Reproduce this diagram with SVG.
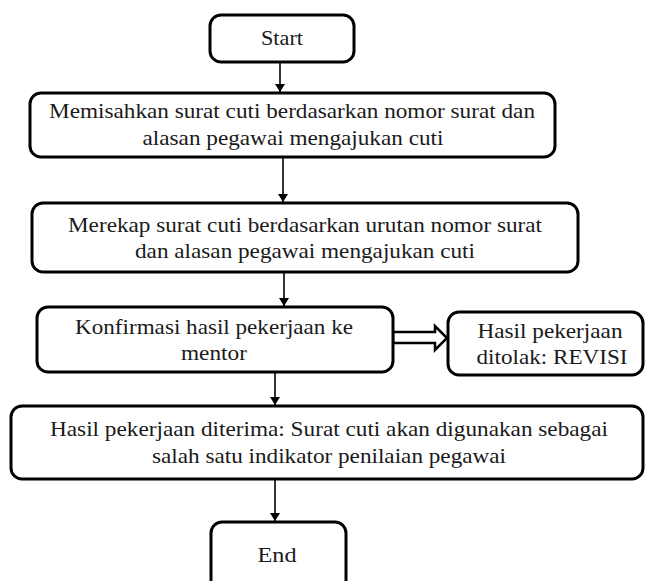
<svg xmlns="http://www.w3.org/2000/svg" width="646" height="581" viewBox="0 0 646 581">
  <defs>
    <style>
      .box { fill: #ffffff; stroke: #000000; stroke-width: 3; }
      .lbl { font-size: 21px; fill: #1a1a1a; text-anchor: middle; }
      .flow { stroke: #000000; stroke-width: 1.6; fill: none; }
      .hollow { fill: #ffffff; stroke: #000000; stroke-width: 2.5; stroke-linejoin: miter; }
    </style>
    <marker id="headL" viewBox="0 0 10 10" refX="10" refY="5" markerWidth="8" markerHeight="10" markerUnits="userSpaceOnUse" orient="auto" preserveAspectRatio="none">
      <path d="M0,0 L10,5 L0,10 Z" fill="#000000"/>
    </marker>
  </defs>

  <rect width="646" height="581" fill="#ffffff"/>

  <!-- connectors -->
  <g id="connectors">
    <line class="flow" x1="280" y1="62" x2="280" y2="92" marker-end="url(#headL)"/>
    <line class="flow" x1="283" y1="158" x2="283" y2="202" marker-end="url(#headL)"/>
    <line class="flow" x1="284" y1="273" x2="284" y2="306" marker-end="url(#headL)"/>
    <line class="flow" x1="275" y1="373" x2="275" y2="405" marker-end="url(#headL)"/>
    <line class="flow" x1="275" y1="480" x2="275" y2="521" marker-end="url(#headL)"/>
    <!-- hollow double-line arrow to the rejection box -->
    <path class="hollow" d="M393,332 L435,332 L435,326 L447,338 L435,350 L435,343 L393,343 Z"/>
  </g>

  <g font-family="'Liberation Serif', 'DejaVu Serif', serif">
    <g id="start">
      <rect class="box" x="210" y="15" width="144" height="47" rx="11"/>
      <text class="lbl" x="282" y="45" textLength="42" lengthAdjust="spacingAndGlyphs">Start</text>
    </g>

    <g id="pisahkan">
      <rect class="box" x="30" y="93" width="525" height="64" rx="11"/>
      <text class="lbl" x="292" y="118" textLength="486" lengthAdjust="spacingAndGlyphs">Memisahkan surat cuti berdasarkan nomor surat dan</text>
      <text class="lbl" x="293" y="145" textLength="301" lengthAdjust="spacingAndGlyphs">alasan pegawai mengajukan cuti</text>
    </g>

    <g id="rekap">
      <rect class="box" x="32" y="203" width="546" height="69" rx="11"/>
      <text class="lbl" x="305" y="232" textLength="474" lengthAdjust="spacingAndGlyphs">Merekap surat cuti berdasarkan urutan nomor surat</text>
      <text class="lbl" x="305" y="258" textLength="340" lengthAdjust="spacingAndGlyphs">dan alasan pegawai mengajukan cuti</text>
    </g>

    <g id="konfirmasi">
      <rect class="box" x="37" y="307" width="356" height="65" rx="11"/>
      <text class="lbl" x="214" y="334" textLength="278" lengthAdjust="spacingAndGlyphs">Konfirmasi hasil pekerjaan ke</text>
      <text class="lbl" x="214" y="360" textLength="66" lengthAdjust="spacingAndGlyphs">mentor</text>
    </g>

    <g id="revisi">
      <rect class="box" x="448" y="312" width="195" height="63" rx="11"/>
      <text class="lbl" x="550" y="338" textLength="145" lengthAdjust="spacingAndGlyphs">Hasil pekerjaan</text>
      <text class="lbl" x="552" y="364" textLength="151" lengthAdjust="spacingAndGlyphs">ditolak: REVISI</text>
    </g>

    <g id="diterima">
      <rect class="box" x="11" y="406" width="632" height="73" rx="11"/>
      <text class="lbl" x="329" y="436" textLength="558" lengthAdjust="spacingAndGlyphs">Hasil pekerjaan diterima: Surat cuti akan digunakan sebagai</text>
      <text class="lbl" x="329" y="463" textLength="354" lengthAdjust="spacingAndGlyphs">salah satu indikator penilaian pegawai</text>
    </g>

    <g id="end">
      <rect class="box" x="211" y="522" width="135" height="70" rx="11"/>
      <text class="lbl" x="277" y="562" textLength="39" lengthAdjust="spacingAndGlyphs">End</text>
    </g>
  </g>
</svg>
